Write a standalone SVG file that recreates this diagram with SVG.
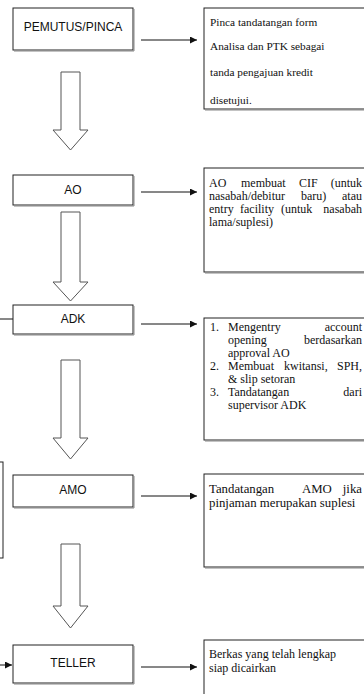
<svg xmlns="http://www.w3.org/2000/svg" width="364" height="694" viewBox="0 0 364 694">
  <defs>
    <marker id="head" viewBox="0 0 10 10" refX="10" refY="5" markerWidth="7" markerHeight="7" orient="auto" markerUnits="userSpaceOnUse">
      <path d="M0,0 L10,5 L0,10 z" fill="#111"/>
    </marker>
    <style>
      .node rect { fill: #fff; stroke: #222; stroke-width: 1; }
      .shadow { fill: none; stroke: #888; stroke-width: 1; }
      .label { font-family: "Liberation Sans", Arial, sans-serif; font-size: 12px; fill: #111; text-anchor: middle; }
      .desc rect { fill: #fff; stroke: #222; stroke-width: 1; }
      .desc text { font-family: "Liberation Serif", "Times New Roman", serif; font-size: 12px; fill: #111; }
      #desc-pemutus text { font-size: 11.3px; }
      #desc-amo text { font-size: 12.8px; }
      .flow { fill: #fff; stroke: #555; stroke-width: 1; }
      .link { stroke: #111; stroke-width: 1; fill: none; }
    </style>
  </defs>
  <rect width="364" height="694" fill="#fff"/>

  <!-- hollow process arrows between stages -->
  <g id="flow-arrows">
    <path class="flow" d="M61,72 V130 H53 L70.5,150 L88,130 H80 V72 Z"/>
    <path class="flow" d="M61,212 V282 H53 L70.5,301 L88,282 H80 V212 Z"/>
    <path class="flow" d="M61,360 V438 H53 L70.5,459 L88,438 H80 V360 Z"/>
    <path class="flow" d="M61,544 V606 H53 L70.5,628 L88,606 H80 V544 Z"/>
  </g>

  <!-- connectors -->
  <g id="connectors">
    <line class="link" x1="141" y1="40" x2="197" y2="40" marker-end="url(#head)"/>
    <line class="link" x1="141" y1="192" x2="197" y2="192" marker-end="url(#head)"/>
    <line class="link" x1="141" y1="324" x2="197" y2="324" marker-end="url(#head)"/>
    <line class="link" x1="141" y1="496" x2="197" y2="496" marker-end="url(#head)"/>
    <line class="link" x1="141" y1="667" x2="197" y2="667" marker-end="url(#head)"/>
    <!-- side loop on the left -->
    <line class="link" x1="-5" y1="319" x2="13" y2="319"/>
    <rect x="-60" y="462" width="63" height="96" fill="none" stroke="#222" stroke-width="1"/>
    <line class="link" x1="-5" y1="665" x2="12" y2="665" marker-end="url(#head)"/>
  </g>

  <!-- stage boxes -->
  <g id="pemutus" class="node">
    <rect x="13" y="8" width="120" height="42"/>
    <polyline class="shadow" points="134,9 134,51 14,51"/>
    <text class="label" x="73" y="31">PEMUTUS/PINCA</text>
  </g>
  <g id="ao" class="node">
    <rect x="13" y="175" width="120" height="30"/>
    <polyline class="shadow" points="134,176 134,206 14,206"/>
    <text class="label" x="73" y="194">AO</text>
  </g>
  <g id="adk" class="node">
    <rect x="13" y="305" width="120" height="29"/>
    <polyline class="shadow" points="134,306 134,335 14,335"/>
    <text class="label" x="73" y="323">ADK</text>
  </g>
  <g id="amo" class="node">
    <rect x="13" y="475" width="120" height="32"/>
    <polyline class="shadow" points="134,476 134,508 14,508"/>
    <text class="label" x="73" y="494">AMO</text>
  </g>
  <g id="teller" class="node">
    <rect x="13" y="645" width="120" height="38"/>
    <polyline class="shadow" points="134,646 134,684 14,684"/>
    <text class="label" x="73" y="667">TELLER</text>
  </g>

  <!-- description boxes -->
  <g id="desc-pemutus" class="desc">
    <rect x="204" y="8" width="170" height="101"/>
    <line class="shadow" x1="205" y1="110" x2="364" y2="110"/>
    <text x="210" y="26">Pinca tandatangan form</text>
    <text x="210" y="50">Analisa dan PTK sebagai</text>
    <text x="210" y="76">tanda pengajuan kredit</text>
    <text x="210" y="104">disetujui.</text>
  </g>
  <g id="desc-ao" class="desc">
    <rect x="204" y="168" width="170" height="104"/>
    <line class="shadow" x1="205" y1="273" x2="364" y2="273"/>
    <text y="187"><tspan x="209">AO</tspan><tspan x="241">membuat</tspan><tspan x="299">CIF</tspan><tspan x="362" text-anchor="end">(untuk</tspan></text>
    <text y="200"><tspan x="209">nasabah/debitur</tspan><tspan x="301">baru)</tspan><tspan x="362" text-anchor="end">atau</tspan></text>
    <text y="213"><tspan x="209">entry</tspan><tspan x="240">facility</tspan><tspan x="281">(untuk</tspan><tspan x="362" text-anchor="end">nasabah</tspan></text>
    <text x="209" y="226">lama/suplesi)</text>
  </g>
  <g id="desc-adk" class="desc">
    <rect x="204" y="318" width="170" height="122"/>
    <line class="shadow" x1="205" y1="441" x2="364" y2="441"/>
    <text y="331"><tspan x="210">1.</tspan><tspan x="228">Mengentry</tspan><tspan x="362" text-anchor="end">account</tspan></text>
    <text y="344"><tspan x="228">opening</tspan><tspan x="362" text-anchor="end">berdasarkan</tspan></text>
    <text x="228" y="357">approval AO</text>
    <text y="370"><tspan x="210">2.</tspan><tspan x="228">Membuat</tspan><tspan x="284">kwitansi,</tspan><tspan x="362" text-anchor="end">SPH,</tspan></text>
    <text x="228" y="383">&amp; slip setoran</text>
    <text y="396"><tspan x="210">3.</tspan><tspan x="228">Tandatangan</tspan><tspan x="362" text-anchor="end">dari</tspan></text>
    <text x="228" y="409">supervisor ADK</text>
  </g>
  <g id="desc-amo" class="desc">
    <rect x="204" y="474" width="170" height="93"/>
    <line class="shadow" x1="205" y1="568" x2="364" y2="568"/>
    <text y="493"><tspan x="209">Tandatangan</tspan><tspan x="302">AMO</tspan><tspan x="362" text-anchor="end">jika</tspan></text>
    <text x="209" y="507">pinjaman merupakan suplesi</text>
  </g>
  <g id="desc-teller" class="desc">
    <rect x="204" y="640" width="170" height="70"/>
    <text x="209" y="658">Berkas yang telah lengkap</text>
    <text x="209" y="672">siap dicairkan</text>
  </g>
</svg>
